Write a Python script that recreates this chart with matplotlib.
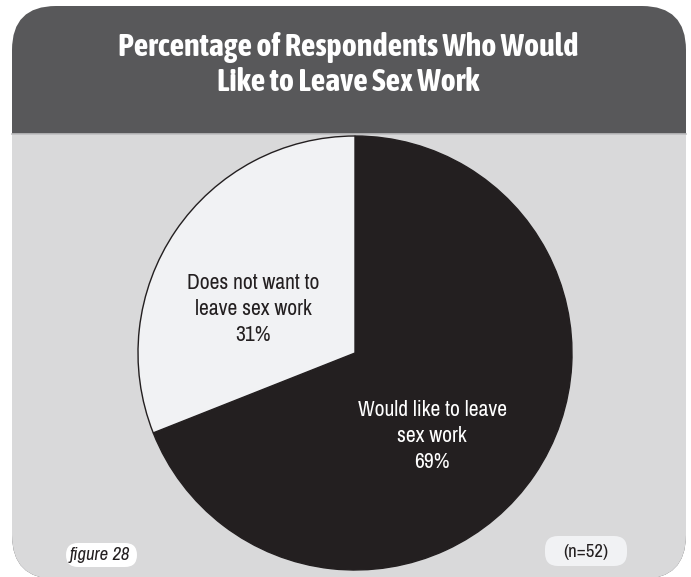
import matplotlib.pyplot as plt
import matplotlib.patheffects as pe
from matplotlib import font_manager
from matplotlib.patches import FancyBboxPatch, Rectangle

title = "Percentage of Respondents Who Would\nLike to Leave Sex Work"
labels = ["Would like to leave\nsex work", "Does not want to\nleave sex work"]
values = [69, 31]
colors = ["#231f20", "#f1f2f4"]
text_colors = ["white", "#231f20"]
figure_label = "figure 28"
sample_note = "(n=52)"

# look for a narrow/condensed face, otherwise fall back to DejaVu
entries = [f for f in font_manager.fontManager.ttflist
           if "Narrow" in f.name or "Condensed" in f.name]
narrow = sorted({f.name for f in entries})
if "Liberation Sans Narrow" in narrow:
    narrow.remove("Liberation Sans Narrow")
    narrow.insert(0, "Liberation Sans Narrow")
FONT = narrow + ["DejaVu Sans"]
STRETCH = "condensed"

# does any narrow face come in bold? if not, fake it with a stroke
bold_names = sorted({f.name for f in entries
                     if isinstance(f.weight, int) and f.weight >= 600
                     or f.weight in ("bold", "heavy", "black", "demibold")})
if bold_names:
    TITLE_FONT = bold_names + ["DejaVu Sans"]
    title_fx = []
else:
    TITLE_FONT = FONT
    title_fx = [pe.withStroke(linewidth=1.3, foreground="white")]

W, H = 691, 577
fig = plt.figure(figsize=(W / 100, H / 100), dpi=100)
fig.patch.set_facecolor("white")

# background axes in pixel coordinates
bg = fig.add_axes([0, 0, 1, 1])
bg.set_xlim(0, W)
bg.set_ylim(H, 0)
bg.axis("off")

panel = FancyBboxPatch((12 + 44, 6 + 44), 674 - 88, 573 - 88,
                       boxstyle="round,pad=44", facecolor="#58585a",
                       edgecolor="none")
bg.add_patch(panel)
body = Rectangle((0, 134), W, H, facecolor="#d9d9da", edgecolor="none")
bg.add_patch(body)
body.set_clip_path(panel)
bg.plot([12, 686], [134, 134], color="#bfbfc1", lw=1.2)

bg.text(348, 65, title, ha="center", va="center", color="white",
        fontsize=23, fontweight="bold", family=TITLE_FONT, stretch=STRETCH,
        linespacing=1.18, path_effects=title_fx)

# footer pills
bg.add_patch(FancyBboxPatch((66, 543), 71, 24, boxstyle="round,pad=0,rounding_size=12",
                            facecolor="white", edgecolor="none"))
bg.text(100, 555, figure_label, ha="center", va="center", fontsize=13.5,
        style="italic", color="#231f20", family=FONT, stretch=STRETCH)
bg.add_patch(FancyBboxPatch((545, 536), 82, 30, boxstyle="round,pad=0,rounding_size=13",
                            facecolor="#f1f2f4", edgecolor="none"))
bg.text(586, 552, sample_note, ha="center", va="center", fontsize=13.5,
        color="#231f20", family=FONT, stretch=STRETCH)

# pie
cx, cy, r = 355, 353, 217
pie_ax = fig.add_axes([(cx - r) / W, (H - cy - r) / H, 2 * r / W, 2 * r / H])
pie_ax.pie(values, colors=colors, startangle=90, counterclock=False,
           radius=1.0, wedgeprops=dict(edgecolor="#231f20", linewidth=1.0))
pie_ax.set_xlim(-1, 1)
pie_ax.set_ylim(-1, 1)
pie_ax.set_aspect("equal")

label_pos = [(0.355, -0.382), (-0.47, 0.203)]
for lab, v, tc, (x, y) in zip(labels, values, text_colors, label_pos):
    pie_ax.text(x, y, f"{lab}\n{v}%", ha="center", va="center", color=tc,
                fontsize=15.5, family=FONT, stretch=STRETCH, linespacing=1.38)

fig.savefig("out.png", dpi=100)
